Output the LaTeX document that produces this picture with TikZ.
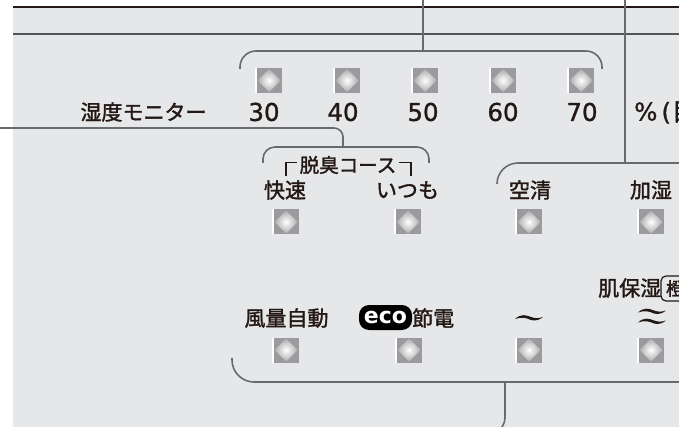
\documentclass[tikz,border=0pt]{standalone}
\usepackage{fontspec}
\setmainfont{Noto Sans CJK JP}[FakeBold=1.6]
\newfontfamily\digitfont{DejaVu Sans}[FakeBold=1.0]
\newfontfamily\ecofont{DejaVu Sans}
\usetikzlibrary{calc}
\definecolor{ink}{RGB}{35,24,21}
\definecolor{panel}{RGB}{230,231,232}
\definecolor{linegrey}{RGB}{105,106,109}
\definecolor{ledgrey}{RGB}{155,155,158}
\definecolor{ledlight}{RGB}{172,172,175}
\tikzset{
  lbl/.style={text=ink, font=\fontsize{21}{24}\selectfont, inner sep=0pt},
  num/.style={text=ink, font=\digitfont\fontsize{24.5}{28}\selectfont, inner sep=0pt},
  conn/.style={draw=linegrey, line width=1.6pt},
  corner/.style={draw=ink, line width=1.8pt},
  led/.style={minimum width=27pt, minimum height=25pt, inner sep=0pt, outer sep=0pt, fill=ledgrey,
    path picture={
      \fill[white] (path picture bounding box.north west) rectangle ($(path picture bounding box.south west)+(2,0)$);
      \coordinate (dc) at ($(path picture bounding box.center)+(1,0)$);
      \shade[inner color=white, outer color=ledlight] ($(dc)+(0,-11.5)$) -- ($(dc)+(11.5,0)$) -- ($(dc)+(0,11.5)$) -- ($(dc)+(-11.5,0)$) -- cycle;
    }},
  wave/.pic={\fill[ink] (-14,2) .. controls (-8,-3.5) and (-3,-2) .. (2,0) .. controls (6,1.5) and (10,1.5) .. (14,0) .. controls (10,3.4) and (6,4) .. (2,3) .. controls (-3,0.6) and (-8,-0.3) .. (-14,2) -- cycle;}
}
\begin{document}
\begin{tikzpicture}[x=1pt,y=-1pt]
\useasboundingbox (0,0) rectangle (679,427);
\clip (0,0) rectangle (679,427);
% background
\fill[white] (0,0) rectangle (679,427);
\fill[panel] (13,7.5) rectangle (679,427);
\draw[ink, line width=2pt] (13,7.5) -- (679,7.5);
\draw[linegrey!80!black, line width=1.5pt] (13,34) -- (679,34);

% coordinates for connectors
\coordinate (topA) at (423,0);
\coordinate (brA) at (423,51);
\coordinate (topB) at (625,0);
\coordinate (brB) at (625,163);
\coordinate (leftC) at (0,128);
\coordinate (brC) at (343,147);
\coordinate (brD) at (505,382);
\coordinate (botD) at (490,436);

% brackets
\draw[conn, rounded corners=16pt] (240,69) -- (240,51) -- (602,51) -- (602,69);
\draw[conn] (topA) -- (brA);
\draw[conn, rounded corners=21pt] (497,184) -- (497,163) -- (700,163);
\draw[conn] (topB) -- (brB);
\draw[conn, rounded corners=12pt] (263,163) -- (263,147) -- (429,147) -- (429,163);
\draw[conn, rounded corners=9pt] (leftC) -- (343,128) -- (brC);
\draw[conn, rounded corners=22pt] (232,358) -- (232,382) -- (700,382);
\draw[conn, rounded corners=10pt] (brD) -- (505,428) -- (botD);

% humidity monitor row
\node[led] (h30) at (268,80.5) {};
\node[led] (h40) at (346,80.5) {};
\node[led] (h50) at (424,80.5) {};
\node[led] (h60) at (502,80.5) {};
\node[led] (h70) at (580,80.5) {};
\node[lbl] (hm) at (143.5,112) {湿度モニター};
\node[num] (n30) at (264,112) {30};
\node[num] (n40) at (343,112) {40};
\node[num] (n50) at (423,112) {50};
\node[num] (n60) at (503,112) {60};
\node[num] (n70) at (582,112) {70};
\node[num, anchor=base west] (pct) at (634,120.5) {\%\kern4pt(\kern1pt{\rmfamily 目安)}};

% deodorize course
\node[lbl, font=\fontsize{19.5}{22}\selectfont] (dk) at (348,165) {脱臭コース};
\draw[corner] (286,176) -- (286,162.5) -- (297,162.5);
\draw[corner] (399,162.5) -- (411,162.5) -- (411,176);
\node[lbl] (kaisoku) at (285,190) {快速};
\node[lbl] (itsumo) at (407.5,190) {いつも};
\node[lbl] (kusei) at (530,190) {空清};
\node[lbl] (kashitsu) at (651,190) {加湿};
\node[led] (l1) at (285,222) {};
\node[led] (l2) at (407,222) {};
\node[led] (l3) at (528,222) {};
\node[led] (l4) at (650,222) {};

% skin moisture
\node[lbl, anchor=west] (hada) at (598,288) {肌保湿};
\draw[ink, line width=1.2pt, rounded corners=5pt] (661,276) rectangle (710,301);
\node[lbl, font=\fontsize{18}{20}\selectfont] (orange) at (675,288.5) {橙};

% bottom row
\node[lbl] (fuuryou) at (286.5,318) {風量自動};
\node[fill=black, rounded corners=10pt, minimum width=53pt, minimum height=25pt, inner sep=0pt, text=white, font=\ecofont\bfseries\fontsize{22}{24}\selectfont] (eco) at (385.5,317.5) {eco};
\node[lbl, anchor=west] (setsuden) at (412,318) {節電};
\pic at (529,317) {wave};
\pic at (652,310.5) {wave};
\pic at (652,320.5) {wave};
\node[led] (b1) at (285,350) {};
\node[led] (b2) at (408,350) {};
\node[led] (b3) at (528,350) {};
\node[led] (b4) at (650,350) {};
\end{tikzpicture}
\end{document}
